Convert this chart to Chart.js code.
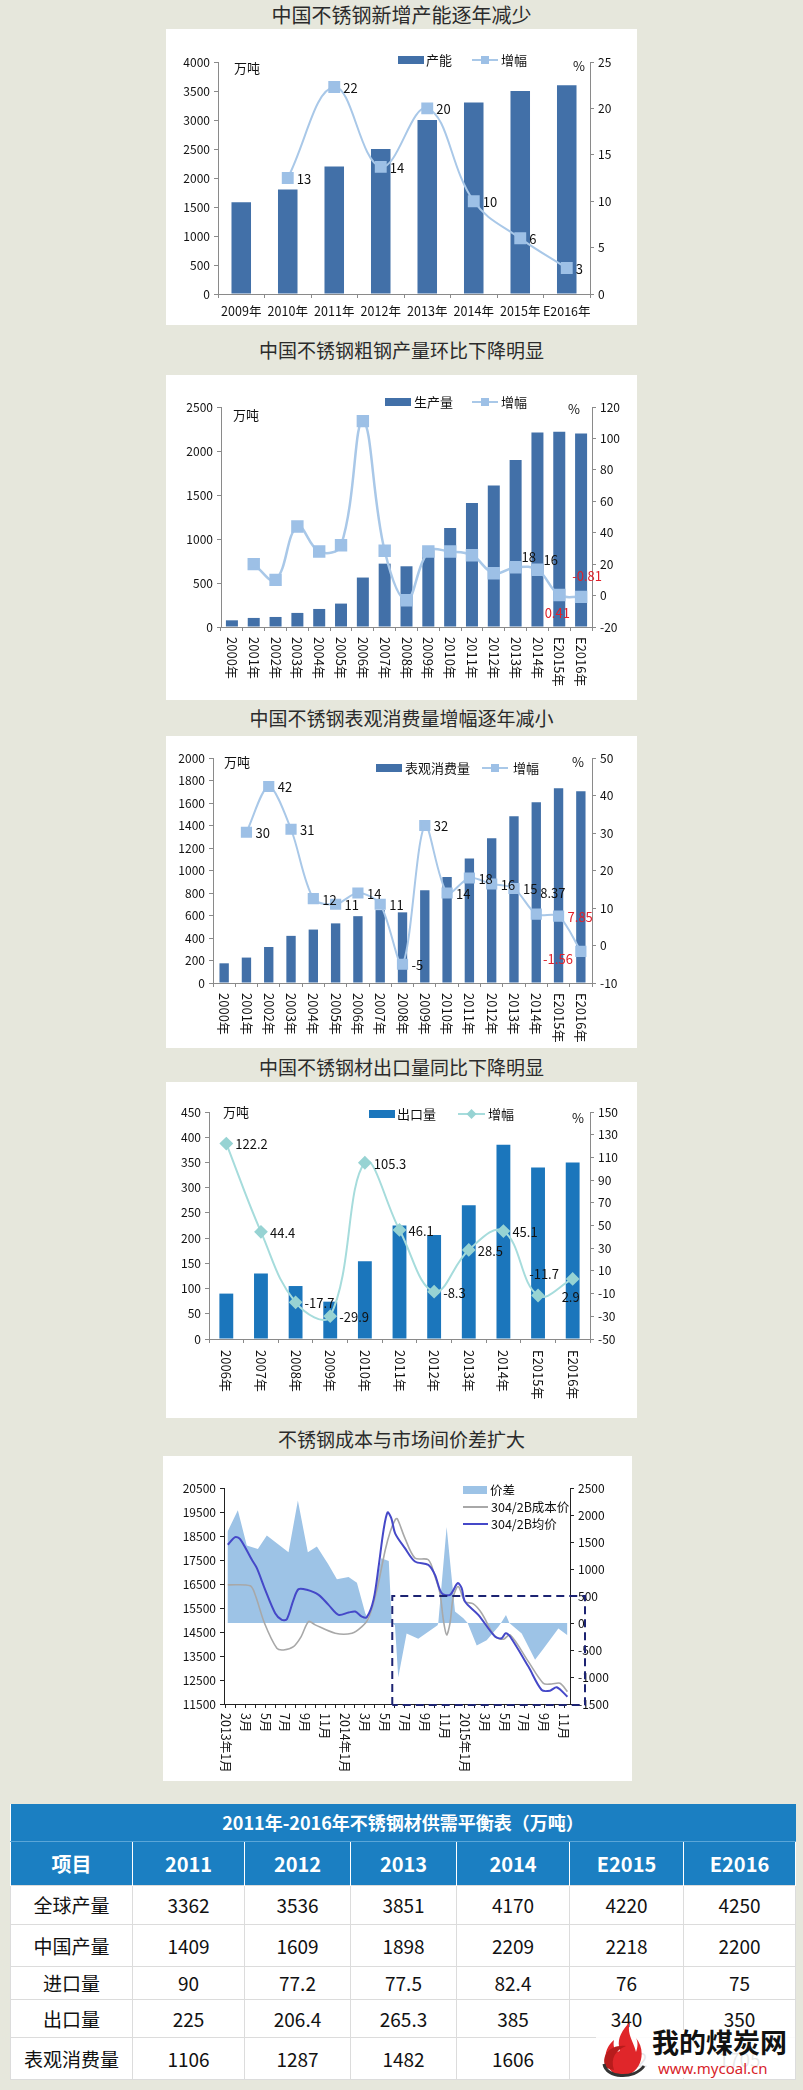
<!DOCTYPE html>
<html>
<head>
<meta charset="utf-8">
<script src="https://cdn.jsdelivr.net/npm/chart.js@4.4.1/dist/chart.umd.min.js"></script>
<style>
  body { margin: 0; background: #e6e7dc; font-family: "Noto Sans CJK SC", "Noto Sans", sans-serif; }
  #page { position: relative; width: 803px; height: 2090px; overflow: hidden; }
  .ttl { position: absolute; left: 0; width: 803px; text-align: center; font-size: 19px; line-height: 24px; color: #2b2b2b; }
  .box { position: absolute; background: #fff; }
  table { position: absolute; left: 10px; top: 1804px; width: 785px; border-collapse: collapse; table-layout: fixed; background: #fff; }
  td { text-align: center; font-size: 19px; color: #111; border: 1px solid #dcdcdc; padding: 0; }
  tr.head td { background: #1b7fc2; color: #fff; font-weight: bold; border: 1px solid #fff; border-top: none; border-bottom: none; }
  tr.cap td { background: #1b7fc2; color: #fff; font-weight: bold; font-size: 18px; border: none; border-bottom: 1px solid #5aa6d8; }
  #logo { position: absolute; left: 596px; top: 2020px; width: 199px; height: 58px; }
</style>
</head>
<body>
<div id="page">
  <div class="ttl" style="top:3px;font-size:20px">中国不锈钢新增产能逐年减少</div>
  <div class="box" style="left:166px;top:29px;width:471px;height:296px"><canvas id="c1"></canvas></div>

  <div class="ttl" style="top:338px">中国不锈钢粗钢产量环比下降明显</div>
  <div class="box" style="left:166px;top:375px;width:471px;height:325px"><canvas id="c2"></canvas></div>

  <div class="ttl" style="top:706px">中国不锈钢表观消费量增幅逐年减小</div>
  <div class="box" style="left:166px;top:736px;width:471px;height:312px"><canvas id="c3"></canvas></div>

  <div class="ttl" style="top:1055px">中国不锈钢材出口量同比下降明显</div>
  <div class="box" style="left:166px;top:1082px;width:471px;height:336px"><canvas id="c4"></canvas></div>

  <div class="ttl" style="top:1427px">不锈钢成本与市场间价差扩大</div>
  <div class="box" style="left:163px;top:1456px;width:469px;height:325px"><canvas id="c5"></canvas></div>

  <table>
    <colgroup>
      <col style="width:122px"><col style="width:112px"><col style="width:106px"><col style="width:106px">
      <col style="width:113px"><col style="width:114px"><col style="width:112px">
    </colgroup>
    <tbody id="tbody"></tbody>
  </table>

  <svg id="logo" viewBox="0 0 199 58">
    <rect x="0" y="10" width="199" height="48" fill="#fff" opacity="0.9"/>
    <path d="M22 56 C6 48 6 30 18 20 C16 30 22 34 24 30 C20 20 26 10 34 2 C30 14 38 22 40 32 C42 26 42 22 40 18 C50 30 46 48 34 54 Z" fill="#e0262a"/>
    <path d="M10 48 C4 36 14 24 30 26 C20 30 14 38 18 50 Z" fill="#b71c1c"/>
    <path d="M8 44 C10 58 38 60 48 46" stroke="#333" stroke-width="3" fill="none"/>
    <text x="56" y="33" font-size="27" font-weight="bold" fill="#111" font-family="Noto Sans CJK SC">我的煤炭网</text>
    <text x="62" y="54" font-size="15" fill="#d8232a" font-family="Noto Sans, sans-serif">www.mycoal.cn</text>
  </svg>
</div>

<script>
// ---------- data ----------
// chart 1: new capacity
const capYears = ['2009年', '2010年', '2011年', '2012年', '2013年', '2014年', '2015年', 'E2016年'];
const capValues = [1580, 1800, 2200, 2500, 3000, 3300, 3500, 3600];
const capGrowth = [null, 12.5, 22.3, 13.7, 20, 10, 6, 2.8];
const capGrowthText = ['', '13', '22', '14', '20', '10', '6', '3'];

// chart 2: crude steel output
const prodYears = ['2000年', '2001年', '2002年', '2003年', '2004年', '2005年', '2006年', '2007年', '2008年',
  '2009年', '2010年', '2011年', '2012年', '2013年', '2014年', 'E2015年', 'E2016年'];
const prodValues = [76, 103, 114, 160, 205, 266, 562, 720, 690, 875, 1125, 1409, 1609, 1898, 2209, 2218, 2200];
const prodGrowth = [null, 20, 10, 44, 28, 32, 111, 28.5, -3, 28, 28, 25.7, 14.2, 18, 16.4, 0.41, -0.81];
const prodGrowthText = ['', '', '', '', '', '', '', '', '', '', '', '', '', '18', '16', '0.41', '-0.81'];

// chart 3: apparent consumption
const consYears = prodYears;
const consValues = [175, 226, 320, 419, 475, 530, 594, 648, 628, 825, 942, 1106, 1287, 1482, 1606, 1732, 1705];
const consGrowth = [null, 30.2, 42.4, 31, 12.5, 11, 14, 11, -5, 32, 14, 18, 16.4, 15.2, 8.37, 7.85, -1.56];
const consGrowthText = ['', '30', '42', '31', '12', '11', '14', '11', '-5', '32', '14', '18', '16', '15', '8.37', '7.85', '-1.56'];

// chart 4: exports
const expYears = ['2006年', '2007年', '2008年', '2009年', '2010年', '2011年', '2012年', '2013年', '2014年', 'E2015年', 'E2016年'];
const expValues = [90, 130, 105, 74, 154, 225, 206.4, 265.3, 385, 340, 350];
const expGrowth = [122.2, 44.4, -17.7, -29.9, 105.3, 46.1, -8.3, 28.5, 45.1, -11.7, 2.9];

// chart 5: cost vs price (x = months since 2013-01)
const monthLabels = ['2013年1月', '', '3月', '', '5月', '', '7月', '', '9月', '', '11月', '',
  '2014年1月', '', '3月', '', '5月', '', '7月', '', '9月', '', '11月', '',
  '2015年1月', '', '3月', '', '5月', '', '7月', '', '9月', '', '11月'];
const spreadMonths = [0.2, 1.24, 2.14, 3.25, 4.15, 6.33, 7.27, 8.27, 9.18, 10.32, 11.19, 12.36, 13.2, 14.04, 14.4,
  15.65, 16.4, 16.7, 17.02, 17.35, 18.19, 19.36, 21.3, 21.37, 22.21, 23.05, 23.89, 24.32, 25.23, 26.23,
  27.4, 27.67, 28.17, 28.51, 29.75, 31.09, 31.93, 33.43, 34.34];
const spreadValues = [1690, 2090, 1435, 1370, 1620, 1310, 2270, 1310, 1415, 1090, 810, 850, 745, 180, 40,
  1200, 1150, 0, -40, -1010, -195, -290, -40, 0, 1780, 215, 90, 0, -415, -320,
  -70, 0, 150, 0, -195, -680, -475, -100, -225];
const costMonths = [0.23, 2.48, 2.98, 3.92, 5.16, 5.83, 6.83, 7.6, 8.34, 9.01, 11.02, 12.7, 13.7, 14.37, 15.21,
  16.05, 16.55, 17.05, 17.25, 18.02, 19.03, 20.37, 21.04, 21.54, 21.88, 22.21, 22.55, 22.88, 23.38, 24.05,
  24.89, 25.73, 27.07, 27.91, 28.58, 30.42, 31.93, 32.76, 33.6, 34.34];
const costValues = [16466, 16424, 16049, 14866, 13823, 13753, 13893, 14310, 14936, 14797, 14449, 14449, 14727, 15075, 16257,
  17926, 18691, 19178, 19220, 18413, 17579, 17509, 16814, 16118, 15005, 14379, 14866, 15979, 16396, 15770,
  15673, 15284, 14310, 14199, 14379, 13267, 12362, 12335, 12362, 12015];
const avgMonths = [0.23, 0.97, 1.47, 2.65, 3.15, 3.99, 4.99, 5.66, 6.16, 6.83, 7.34, 8.17, 9.35, 10.35, 11.36,
  12.36, 13.03, 13.7, 14.2, 14.87, 15.38, 15.88, 16.28, 16.65, 17.05, 18.02, 19.03, 20.37, 21.04, 21.71,
  22.55, 23.32, 23.72, 24.05, 25.39, 27.07, 27.74, 28.14, 28.58, 30.42, 31.76, 32.6, 33.27, 34.34];
const avgValues = [18135, 18455, 18372, 17509, 17161, 16257, 15284, 15005, 15033, 15840, 16285, 16257, 16049, 15631, 15214,
  15311, 15353, 15144, 15117, 15840, 17231, 18761, 19484, 19248, 18600, 17996, 17440, 17300, 16883, 16118,
  16049, 16535, 16327, 15770, 15214, 14310, 14240, 14449, 14310, 13058, 12084, 12056, 12196, 11806];
const gapBoxStart = 16.75;   // month where the highlighted period starts
const gapBoxLevel = 500;     // spread level of the highlight box

// table
const tableYears = ['2011', '2012', '2013', '2014', 'E2015', 'E2016'];
const tableRows = ['全球产量', '中国产量', '进口量', '出口量', '表观消费量'];
const globalOutput = [3362, 3536, 3851, 4170, 4220, 4250];
const chinaOutput = [1409, 1609, 1898, 2209, 2218, 2200];
const importVol = [90, 77.2, 77.5, 82.4, 76, 75];
const exportVol = [225, 206.4, 265.3, 385, 340, 350];
const consumption = [1106, 1287, 1482, 1606, 1732, 1705];

// ---------- helpers ----------
const FONT = '"Noto Sans CJK SC", "Noto Sans", sans-serif';
Chart.defaults.font.family = FONT;
Chart.defaults.color = '#111';
Chart.defaults.animation = false;
Chart.defaults.plugins.legend.display = false;
Chart.defaults.plugins.tooltip.enabled = false;

const AXIS = '#8a8a8a';

function yAxis(pos, min, max, step, width, axisColor) {
  return {
    position: pos, min: min, max: max,
    ticks: { stepSize: step, font: { size: 12 }, color: '#111', padding: 4, callback: v => String(v) },
    grid: { drawOnChartArea: false, drawTicks: true, tickLength: 4, color: axisColor || AXIS },
    border: { color: axisColor || AXIS },
    afterFit(s) { s.width = width; }
  };
}

function catAxis(height, showTicks) {
  return {
    ticks: { display: showTicks, font: { size: 12.5 }, color: '#111', padding: 6, maxRotation: 0, autoSkip: false },
    grid: { drawOnChartArea: false, drawTicks: true, tickLength: 4, color: AXIS },
    border: { color: AXIS },
    afterFit(s) { s.height = height; }
  };
}

// x labels rotated a quarter turn clockwise, as in the source
function vertLabels(labels, gap, size) {
  return {
    id: 'vertLabels',
    afterDraw(chart) {
      const ctx = chart.ctx, xs = chart.scales.x;
      ctx.save();
      ctx.font = size + 'px ' + FONT;
      ctx.fillStyle = '#111';
      ctx.textAlign = 'left';
      ctx.textBaseline = 'middle';
      labels.forEach((t, i) => {
        if (!t) return;
        ctx.save();
        ctx.translate(xs.getPixelForValue(i), xs.top + gap);
        ctx.rotate(Math.PI / 2);
        ctx.fillText(t, 0, 0);
        ctx.restore();
      });
      ctx.restore();
    }
  };
}

// value labels next to line points
const PLACE = {
  r: [9, 1, 'left'], ur: [6, -10, 'left'], uur: [4, -21, 'left'],
  u: [6, -21, 'center'], d: [-2, 18, 'center'], dl: [-8, 8, 'right']
};
function pointLabels(dsIndex, texts, places, colors) {
  return {
    id: 'pointLabels',
    afterDatasetsDraw(chart) {
      const ctx = chart.ctx, meta = chart.getDatasetMeta(dsIndex);
      ctx.save();
      ctx.font = '13px ' + FONT;
      ctx.textBaseline = 'middle';
      texts.forEach((t, i) => {
        if (!t) return;
        const p = meta.data[i], pl = PLACE[places[i] || 'r'];
        ctx.textAlign = pl[2];
        ctx.fillStyle = (colors && colors[i]) || '#111';
        ctx.fillText(t, p.x + pl[0], p.y + pl[1]);
      });
      ctx.restore();
    }
  };
}

// legend and unit captions drawn inside the plot
function legendBox(items) {
  return {
    id: 'legendBox',
    afterDraw(chart) {
      const ctx = chart.ctx;
      ctx.save();
      items.forEach(it => {
        if (it.t === 'bar') {
          ctx.fillStyle = it.c;
          ctx.fillRect(it.x, it.y - 4, it.w, 8);
        } else if (it.t === 'line') {
          ctx.strokeStyle = it.c; ctx.lineWidth = it.lw || 2;
          ctx.beginPath(); ctx.moveTo(it.x, it.y); ctx.lineTo(it.x + it.w, it.y); ctx.stroke();
          if (it.m) {
            const cx = it.x + it.w / 2;
            ctx.fillStyle = it.mc;
            ctx.beginPath();
            if (it.m === 'rect') ctx.rect(cx - 4, it.y - 4, 8, 8);
            else { ctx.moveTo(cx, it.y - 5); ctx.lineTo(cx + 5, it.y); ctx.lineTo(cx, it.y + 5); ctx.lineTo(cx - 5, it.y); ctx.closePath(); }
            ctx.fill();
          }
        } else {
          ctx.fillStyle = it.c || '#111';
          ctx.font = (it.s || 13) + 'px ' + FONT;
          ctx.textAlign = it.a || 'left';
          ctx.textBaseline = 'middle';
          ctx.fillText(it.text, it.x, it.y);
        }
      });
      ctx.restore();
    }
  };
}

const BAR = '#4270a8';
const LINE = '#a9c8e8';
const MARK = '#9dc0e6';

// ---------- chart 1 ----------
new Chart(document.getElementById('c1'), {
  type: 'bar',
  data: {
    labels: capYears,
    datasets: [
      { type: 'line', label: '增幅', data: capGrowth, yAxisID: 'y1', order: 0, borderColor: LINE, borderWidth: 2,
        tension: 0.4, pointStyle: 'rect', pointRadius: 7, pointBackgroundColor: MARK, pointBorderColor: MARK, spanGaps: true },
      { label: '产能', data: capValues, yAxisID: 'y', order: 1, backgroundColor: BAR, barPercentage: 0.42, categoryPercentage: 1 }
    ]
  },
  options: {
    responsive: true, maintainAspectRatio: false,
    layout: { padding: { top: 33, left: 0, right: 0, bottom: 0 } },
    scales: {
      x: catAxis(31, true),
      y: yAxis('left', 0, 4000, 500, 52),
      y1: yAxis('right', 0, 25, 5, 47)
    }
  },
  plugins: [
    pointLabels(0, capGrowthText, []),
    legendBox([
      { t: 'bar', x: 232, y: 31, w: 26, c: BAR }, { text: '产能', x: 260, y: 31 },
      { t: 'line', x: 306, y: 31, w: 26, c: LINE, m: 'rect', mc: MARK }, { text: '增幅', x: 335, y: 31 },
      { text: '万吨', x: 68, y: 39 }, { text: '%', x: 407, y: 37 }
    ])
  ]
});

// ---------- chart 2 ----------
new Chart(document.getElementById('c2'), {
  type: 'bar',
  data: {
    labels: prodYears,
    datasets: [
      { type: 'line', label: '增幅', data: prodGrowth, yAxisID: 'y1', order: 0, borderColor: LINE, borderWidth: 2.5,
        tension: 0.4, pointStyle: 'rect', pointRadius: 7, pointBackgroundColor: MARK, pointBorderColor: MARK, spanGaps: true },
      { label: '生产量', data: prodValues, yAxisID: 'y', order: 1, backgroundColor: BAR, barPercentage: 0.55, categoryPercentage: 1 }
    ]
  },
  options: {
    responsive: true, maintainAspectRatio: false,
    layout: { padding: { top: 32 } },
    scales: {
      x: catAxis(73, false),
      y: yAxis('left', 0, 2500, 500, 55),
      y1: yAxis('right', -20, 120, 20, 45)
    }
  },
  plugins: [
    vertLabels(prodYears, 10, 13),
    pointLabels(0, prodGrowthText,
      ['', '', '', '', '', '', '', '', '', '', '', '', '', 'ur', 'ur', 'd', 'u'],
      ['', '', '', '', '', '', '', '', '', '', '', '', '', '', '', '#e0202a', '#e0202a']),
    legendBox([
      { t: 'bar', x: 219, y: 27, w: 26, c: BAR }, { text: '生产量', x: 248, y: 27 },
      { t: 'line', x: 306, y: 27, w: 26, c: LINE, m: 'rect', mc: MARK }, { text: '增幅', x: 335, y: 27 },
      { text: '万吨', x: 67, y: 40 }, { text: '%', x: 402, y: 34 }
    ])
  ]
});

// ---------- chart 3 ----------
new Chart(document.getElementById('c3'), {
  type: 'bar',
  data: {
    labels: consYears,
    datasets: [
      { type: 'line', label: '增幅', data: consGrowth, yAxisID: 'y1', order: 0, borderColor: LINE, borderWidth: 2,
        tension: 0.3, pointStyle: 'rect', pointRadius: 6.5, pointBackgroundColor: MARK, pointBorderColor: MARK, spanGaps: true },
      { label: '表观消费量', data: consValues, yAxisID: 'y', order: 1, backgroundColor: BAR, barPercentage: 0.42, categoryPercentage: 1 }
    ]
  },
  options: {
    responsive: true, maintainAspectRatio: false,
    layout: { padding: { top: 22 } },
    scales: {
      x: catAxis(65, false),
      y: yAxis('left', 0, 2000, 200, 47),
      y1: yAxis('right', -10, 50, 10, 45)
    }
  },
  plugins: [
    vertLabels(consYears, 10, 13),
    pointLabels(0, consGrowthText,
      ['', 'r', 'r', 'r', 'r', 'r', 'r', 'r', 'r', 'r', 'r', 'r', 'r', 'r', 'uur', 'r', 'dl'],
      ['', '', '', '', '', '', '', '', '', '', '', '', '', '', '', '#e0202a', '#e0202a']),
    legendBox([
      { t: 'bar', x: 210, y: 32, w: 26, c: BAR }, { text: '表观消费量', x: 239, y: 32 },
      { t: 'line', x: 316, y: 32, w: 26, c: LINE, m: 'rect', mc: MARK }, { text: '增幅', x: 347, y: 32 },
      { text: '万吨', x: 58, y: 26 }, { text: '%', x: 406, y: 26 }
    ])
  ]
});

// ---------- chart 4 ----------
const BAR4 = '#1b76bc';
const LINE4 = '#a6dcdc';
const MARK4 = '#97d3d3';
new Chart(document.getElementById('c4'), {
  type: 'bar',
  data: {
    labels: expYears,
    datasets: [
      { type: 'line', label: '增幅', data: expGrowth, yAxisID: 'y1', order: 0, borderColor: LINE4, borderWidth: 2,
        tension: 0.4, pointStyle: 'rectRot', pointRadius: 5.5, pointBackgroundColor: MARK4, pointBorderColor: MARK4 },
      { label: '出口量', data: expValues, yAxisID: 'y', order: 1, backgroundColor: BAR4, barPercentage: 0.4, categoryPercentage: 1 }
    ]
  },
  options: {
    responsive: true, maintainAspectRatio: false,
    layout: { padding: { top: 30 } },
    scales: {
      x: catAxis(79, false),
      y: yAxis('left', 0, 450, 50, 43),
      y1: yAxis('right', -50, 150, 20, 47)
    }
  },
  plugins: [
    vertLabels(expYears, 11, 13),
    pointLabels(0, expGrowth.map(String), ['r', 'r', 'r', 'r', 'r', 'r', 'r', 'r', 'r', 'u', 'd']),
    legendBox([
      { t: 'bar', x: 203, y: 32, w: 26, c: BAR4 }, { text: '出口量', x: 231, y: 32 },
      { t: 'line', x: 292, y: 32, w: 27, c: LINE4, m: 'rectRot', mc: MARK4 }, { text: '增幅', x: 322, y: 32 },
      { text: '万吨', x: 57, y: 30 }, { text: '%', x: 406, y: 36 }
    ])
  ]
});

// ---------- chart 5 ----------
const AREA5 = '#9dc3e6';
const GREY5 = '#a8a8a8';
const BLUE5 = '#4548c8';
const gapBox = {
  id: 'gapBox',
  afterDatasetsDraw(chart) {
    const ctx = chart.ctx, xs = chart.scales.x, yr = chart.scales.y1;
    const l = xs.getPixelForValue(gapBoxStart), t = yr.getPixelForValue(gapBoxLevel);
    const r = chart.chartArea.right + 15, b = chart.chartArea.bottom + 1;
    ctx.save();
    ctx.strokeStyle = '#1c2372'; ctx.lineWidth = 2; ctx.setLineDash([8, 5]);
    ctx.beginPath();
    ctx.moveTo(l, b); ctx.lineTo(l, t); ctx.lineTo(r, t); ctx.lineTo(r, b); ctx.lineTo(l, b);
    ctx.stroke();
    ctx.restore();
  }
};
new Chart(document.getElementById('c5'), {
  type: 'line',
  data: {
    datasets: [
      { label: '304/2B均价', data: avgMonths.map((m, i) => ({ x: m, y: avgValues[i] })), yAxisID: 'y', order: 0,
        borderColor: BLUE5, borderWidth: 2, pointRadius: 0, tension: 0.3 },
      { label: '304/2B成本价', data: costMonths.map((m, i) => ({ x: m, y: costValues[i] })), yAxisID: 'y', order: 1,
        borderColor: GREY5, borderWidth: 1.6, pointRadius: 0, tension: 0.3 },
      { label: '价差', data: spreadMonths.map((m, i) => ({ x: m, y: spreadValues[i] })), yAxisID: 'y1', order: 2,
        borderWidth: 0, borderColor: AREA5, backgroundColor: AREA5, fill: 'origin', pointRadius: 0, tension: 0 }
    ]
  },
  options: {
    responsive: true, maintainAspectRatio: false,
    layout: { padding: { top: 32 } },
    scales: {
      x: {
        type: 'linear', min: -0.15, max: 34.6,
        afterBuildTicks(s) { s.ticks = monthLabels.map((_, i) => ({ value: i })); },
        ticks: { display: false },
        grid: { drawOnChartArea: false, drawTicks: true, tickLength: 4, color: '#222' },
        border: { color: '#222' },
        afterFit(s) { s.height = 77; }
      },
      y: yAxis('left', 11500, 20500, 1000, 61, '#222'),
      y1: yAxis('right', -1500, 2500, 500, 62, '#222')
    }
  },
  plugins: [
    vertLabels(monthLabels, 9, 12.5),
    gapBox,
    legendBox([
      { t: 'bar', x: 300, y: 34, w: 24, c: AREA5 }, { text: '价差', x: 327, y: 34, s: 12.5 },
      { t: 'line', x: 300, y: 51, w: 25, c: GREY5, lw: 2 }, { text: '304/2B成本价', x: 328, y: 51, s: 12.5 },
      { t: 'line', x: 300, y: 68, w: 25, c: BLUE5, lw: 2 }, { text: '304/2B均价', x: 328, y: 68, s: 12.5 }
    ])
  ]
});

// ---------- table ----------
(function () {
  const body = document.getElementById('tbody');
  const rowData = [globalOutput, chinaOutput, importVol, exportVol, consumption];
  const rowHeights = [39, 42, 33, 38, 42];
  let html = '<tr class="cap" style="height:37px"><td colspan="7">2011年-2016年不锈钢材供需平衡表（万吨）</td></tr>';
  html += '<tr class="head" style="height:44px"><td style="font-size:20px">项目</td>' +
    tableYears.map(y => '<td style="font-size:20px">' + y + '</td>').join('') + '</tr>';
  tableRows.forEach((name, r) => {
    html += '<tr style="height:' + rowHeights[r] + 'px"><td>' + name + '</td>' +
      rowData[r].map(v => '<td>' + v + '</td>').join('') + '</tr>';
  });
  body.innerHTML = html;
})();
</script>
</body>
</html>
